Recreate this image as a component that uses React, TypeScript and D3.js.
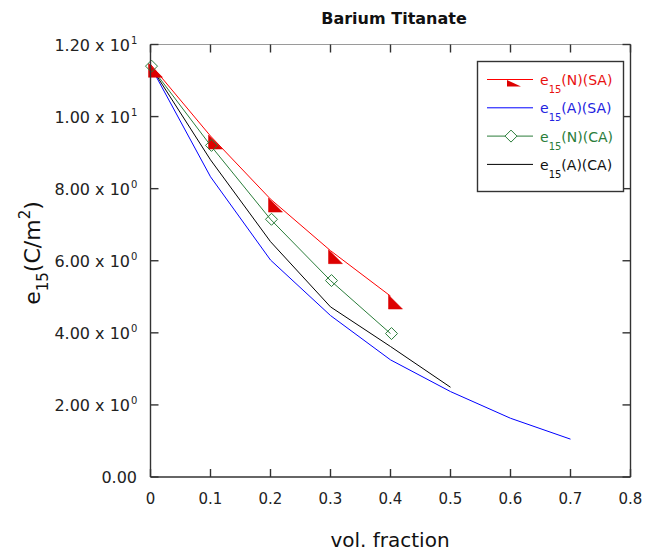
import React from 'react';
import * as d3 from 'd3';

const volFraction = [0, 0.1, 0.2, 0.3, 0.4, 0.5, 0.6, 0.7];
const e15_N_SA = [11.45, 9.46, 7.71, 6.28, 5.02];
const e15_A_SA = [11.4, 8.33, 6.02, 4.48, 3.25, 2.37, 1.63, 1.05];
const e15_N_CA = [11.4, 9.2, 7.15, 5.45, 3.98];
const e15_A_CA = [11.4, 8.8, 6.53, 4.72, 3.62, 2.49];

const xTicks = [0, 0.1, 0.2, 0.3, 0.4, 0.5, 0.6, 0.7, 0.8];
const xTickLabels = ['0', '0.1', '0.2', '0.3', '0.4', '0.5', '0.6', '0.7', '0.8'];
const yTicks = [0, 2, 4, 6, 8, 10, 12];
const yTickMantissa = ['0.00', '2.00 x 10', '4.00 x 10', '6.00 x 10', '8.00 x 10', '1.00 x 10', '1.20 x 10'];
const yTickExp = ['', '0', '0', '0', '0', '1', '1'];

const legendNames = ['(N)(SA)', '(A)(SA)', '(N)(CA)', '(A)(CA)'];
const seriesValues = [e15_N_SA, e15_A_SA, e15_N_CA, e15_A_CA];
const seriesColors = ['#ff0000', '#0000ff', '#2a7d3a', '#000000'];
const seriesTextColors = ['#e81010', '#2323e0', '#2a7d3a', '#111111'];
const seriesMarkers = ['triangle', 'none', 'diamond', 'none'];

const FONT = '"DejaVu Sans", Verdana, sans-serif';

export default function App() {
  const W = 652, H = 556;
  const x = d3.scaleLinear().domain([0, 0.8]).range([150.5, 630.5]);
  const y = d3.scaleLinear().domain([0, 12]).range([477, 44.5]);
  const left = x(0), right = x(0.8), top = y(12), bottom = y(0);
  const tickLen = 8;
  const line = d3.line<[number, number]>().x(d => x(d[0])).y(d => y(d[1]));

  const series = seriesValues.map((vals, i) => ({
    pts: vals.map((v, j) => [volFraction[j], v] as [number, number]),
    color: seriesColors[i],
    textColor: seriesTextColors[i],
    marker: seriesMarkers[i],
    name: legendNames[i],
  }));

  const tri = (px: number, py: number, w = 14, h = 14) =>
    `M${px - 2},${py - 1}L${px - 2},${py - 1 + h}L${px - 2 + w},${py - 1 + h}Z`;
  const diamond = (px: number, py: number, r = 6) =>
    `M${px},${py - r}L${px + r},${py}L${px},${py + r}L${px - r},${py}Z`;

  const legX0 = 487, legX1 = 533, legMid = 510;
  const legRowY = (i: number) => 79.5 + i * 28.3;

  return (
    <svg width={W} height={H} style={{ position: 'absolute', left: 0, top: 0, background: '#fff' }}>
      <rect x={0} y={0} width={W} height={H} fill="#fff" />
      <text x={394} y={24} textAnchor="middle" fontFamily={FONT} fontWeight="bold" fontSize={16} fill="#111">
        Barium Titanate
      </text>

      {/* series */}
      {series.map((s, i) => (
        <path key={'l' + i} d={line(s.pts) || ''} fill="none" stroke={s.color} strokeWidth={1} />
      ))}
      {series.map((s, i) =>
        s.pts.map((p, j) =>
          s.marker === 'triangle' ? (
            <path key={'m' + i + '-' + j} d={tri(x(p[0]), y(p[1]))} fill="#dd0000" stroke="#dd0000" strokeWidth={0.5} />
          ) : s.marker === 'diamond' ? (
            <path key={'m' + i + '-' + j} d={diamond(x(p[0]) + 1, y(p[1]))} fill="none" stroke={s.color} strokeWidth={1} />
          ) : null
        )
      )}

      {/* frame */}
      <line x1={left} y1={top} x2={right} y2={top} stroke="#9a9a9a" strokeWidth={1} />
      <line x1={left} y1={top} x2={left} y2={bottom} stroke="#333" strokeWidth={1.4} />
      <line x1={right} y1={top} x2={right} y2={bottom} stroke="#333" strokeWidth={1.4} />
      <line x1={left} y1={bottom} x2={right} y2={bottom} stroke="#333" strokeWidth={1.4} />

      {/* x ticks */}
      {xTicks.map((t, i) => (
        <g key={'xt' + i}>
          <line x1={x(t)} x2={x(t)} y1={bottom} y2={bottom - tickLen} stroke="#333" strokeWidth={1.4} />
          <line x1={x(t)} x2={x(t)} y1={top} y2={top + tickLen} stroke="#333" strokeWidth={1.4} />
          <text x={x(t)} y={504} textAnchor="middle" fontFamily={FONT} fontSize={15} fill="#222">
            {xTickLabels[i]}
          </text>
        </g>
      ))}

      {/* y ticks */}
      {yTicks.map((t, i) => (
        <g key={'yt' + i}>
          <line x1={left} x2={left + tickLen} y1={y(t)} y2={y(t)} stroke="#333" strokeWidth={1.4} />
          <line x1={right} x2={right - tickLen} y1={y(t)} y2={y(t)} stroke="#333" strokeWidth={1.4} />
          {yTickExp[i] === '' ? (
            <text x={137} y={y(t) + 6} textAnchor="end" fontFamily={FONT} fontSize={16} fill="#222">
              {yTickMantissa[i]}
            </text>
          ) : (
            <g>
              <text x={130} y={y(t) + 6} textAnchor="end" fontFamily={FONT} fontSize={16} fill="#222">
                {yTickMantissa[i]}
              </text>
              <text x={131} y={y(t) - 0.5} textAnchor="start" fontFamily={FONT} fontSize={10} fill="#222">
                {yTickExp[i]}
              </text>
            </g>
          )}
        </g>
      ))}

      {/* axis titles */}
      <text x={390} y={547} textAnchor="middle" fontFamily={FONT} fontSize={20} fill="#111">
        vol. fraction
      </text>
      <text transform="translate(40,253) rotate(-90)" textAnchor="middle" fontFamily={FONT} fontSize={22} fill="#111">
        <tspan>e</tspan>
        <tspan fontSize={15} dy={8}>15</tspan>
        <tspan dy={-8}>(C/m</tspan>
        <tspan fontSize={15} dy={-10}>2</tspan>
        <tspan dy={10}>)</tspan>
      </text>

      {/* legend */}
      <rect x={477.5} y={61.5} width={146} height={130} fill="#fff" stroke="#333" strokeWidth={1.4} />
      {series.map((s, i) => {
        const ry = legRowY(i);
        return (
          <g key={'lg' + i}>
            <line x1={legX0} x2={legX1} y1={ry} y2={ry} stroke={s.color} strokeWidth={1} />
            {s.marker === 'triangle' && (
              <path d={`M${legMid - 3},${ry + 0.5}L${legMid - 3},${ry + 7}L${legMid + 11},${ry + 7}Z`} fill="#dd0000" />
            )}
            {s.marker === 'diamond' && (
              <path d={diamond(legMid + 1, ry, 6)} fill="#fff" stroke={s.color} strokeWidth={1} />
            )}
            <text x={540} y={ry + 5.5} fontFamily={FONT} fontSize={14} fill={s.textColor}>
              <tspan>e</tspan>
              <tspan fontSize={10} dy={8}>15</tspan>
              <tspan dy={-8}>{s.name}</tspan>
            </text>
          </g>
        );
      })}
    </svg>
  );
}
